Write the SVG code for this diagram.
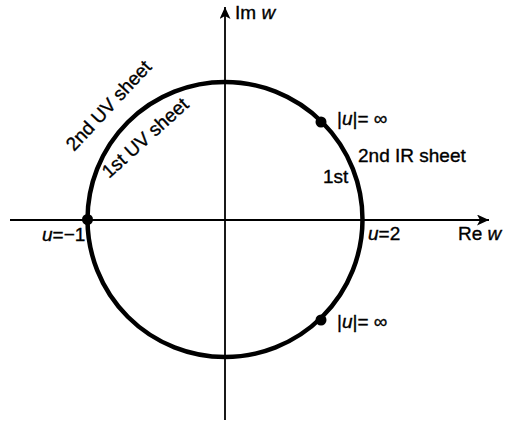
<svg xmlns="http://www.w3.org/2000/svg" width="513" height="423" viewBox="0 0 513 423">
<defs>
<marker id="arr" markerWidth="12" markerHeight="11" refX="12" refY="5.5" orient="auto" markerUnits="userSpaceOnUse">
<path d="M0,0 L12,5.5 L0,11 L3,5.5 Z" fill="#000"/>
</marker>
<style>
text{font-family:"Liberation Sans",Arial,sans-serif;font-size:19px;fill:#000;stroke:#000;stroke-width:0.35}
.it{font-style:italic}
.ax{stroke:#000;stroke-width:1.8;fill:none}
.circ{stroke:#000;stroke-width:4.5;fill:none}
</style>
</defs>
<rect width="513" height="423" fill="#fff"/>
<g id="connectors">
<line class="ax" x1="10" y1="220" x2="489" y2="220" marker-end="url(#arr)"/>
<line class="ax" x1="225" y1="420" x2="225" y2="7" marker-end="url(#arr)"/>
</g>
<g id="circle">
<circle class="circ" cx="225" cy="219.5" r="137.5"/>
</g>
<g id="point-left"><circle cx="87.5" cy="219.5" r="5.5"/></g>
<g id="point-top"><circle cx="321" cy="122" r="5.5"/></g>
<g id="point-bottom"><circle cx="321" cy="320" r="5.5"/></g>
<g id="labels">
<text x="235" y="19">Im <tspan class="it">w</tspan></text>
<text x="458" y="240">Re <tspan class="it">w</tspan></text>
<text x="368" y="240"><tspan class="it">u</tspan>=2</text>
<text x="42" y="241"><tspan class="it">u</tspan>=−1</text>
<text x="337" y="125">|<tspan class="it">u</tspan>|= ∞</text>
<text x="337" y="328">|<tspan class="it">u</tspan>|= ∞</text>
<text x="358" y="162">2nd IR sheet</text>
<text x="323" y="183">1st</text>
<text transform="translate(74,152) rotate(-47)">2nd UV sheet</text>
<text transform="translate(109,179) rotate(-42)">1st UV sheet</text>
</g>
</svg>
